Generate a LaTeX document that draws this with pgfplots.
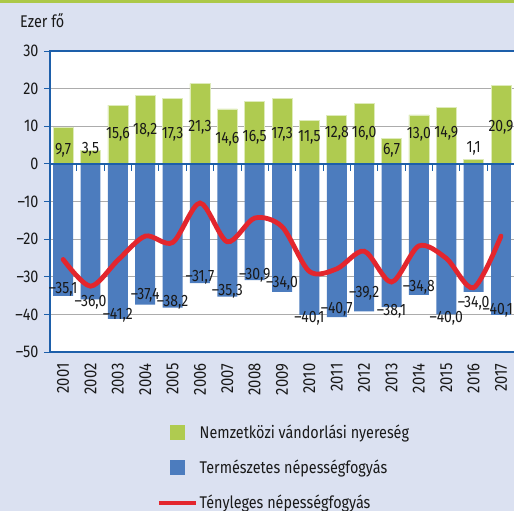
\documentclass[border=0pt]{standalone}
\usepackage{pgfplots}
\pgfplotsset{compat=1.18}
\usepackage{fontspec}
\setmainfont{Fira Sans}[FakeStretch=0.85]
\definecolor{bgc}{RGB}{219,225,241}
\definecolor{topgreen}{RGB}{172,200,72}
\definecolor{barg}{RGB}{175,203,80}
\definecolor{bargedge}{RGB}{222,235,185}
\definecolor{barb}{RGB}{76,124,190}
\definecolor{axb}{RGB}{29,95,170}
\definecolor{lred}{RGB}{227,38,46}
\definecolor{txt}{RGB}{25,25,25}
\begin{document}
\fontsize{16}{19}\selectfont
\begin{tikzpicture}[every node/.style={text=txt}]
\path[use as bounding box] (0,0) rectangle (514bp,511bp);
\fill[bgc] (0,0) rectangle (514bp,511bp);
\fill[topgreen] (0,508bp) rectangle (514bp,511bp);
\node[anchor=west, inner sep=0pt, font=\fontsize{17}{19}\selectfont] at (20bp,490bp) {Ezer fő};
\begin{axis}[
  at={(50bp,159bp)}, anchor=south west,
  scale only axis, width=480bp, height=301bp,
  xmin=2000.52, xmax=2018.06, ymin=-50, ymax=30,
  axis background/.style={fill=white},
  axis line style={draw=axb, line width=1.3bp},
  ytick={-50,-40,...,30},
  yticklabels={\mbox{–50},\mbox{–40},\mbox{–30},\mbox{–20},\mbox{–10},\mbox{0},\mbox{10},\mbox{20},\mbox{30}},
  ymajorgrids, grid style={gray!65, line width=0.8bp},
  ytick pos=left, tick align=outside, major tick length=6bp,
  ytick style={draw=axb, line width=1bp},
  xtick={2001,...,2017},
  xtick style={draw=none},
  xticklabel style={rotate=90, anchor=east, font=\fontsize{17.5}{19}\selectfont,
    /pgf/number format/1000 sep=},
  yticklabel style={font=\fontsize{17}{19}\selectfont},
  /pgf/number format/assume math mode=true,
  clip=false,
  legend style={at={(axis description cs:0.223,-0.235)}, anchor=north west,
    draw=none, fill=none, inner sep=0pt, row sep=15bp,
    font=\fontsize{17}{19}\selectfont},
  legend cell align=left,
]
% Nemzetközi vándorlási nyereség
\addplot[ybar, bar shift=0pt, bar width=0.73, fill=barg, draw=bargedge, line width=0.7bp, forget plot]
  coordinates {(2001,9.7) (2002,3.5) (2003,15.6) (2004,18.2) (2005,17.3) (2006,21.3)
  (2007,14.6) (2008,16.5) (2009,17.3) (2010,11.5) (2011,12.8) (2012,16.0)
  (2013,6.7) (2014,13.0) (2015,14.9) (2016,1.1) (2017,20.9)};
% Természetes népességfogyás
\addplot[ybar, bar shift=0pt, bar width=0.73, fill=barb, draw=none, forget plot]
  coordinates {(2001,-35.1) (2002,-36.0) (2003,-41.2) (2004,-37.4) (2005,-38.2) (2006,-31.7)
  (2007,-35.3) (2008,-30.9) (2009,-34.0) (2010,-40.1) (2011,-40.7) (2012,-39.2)
  (2013,-38.1) (2014,-34.8) (2015,-40.0) (2016,-34.0) (2017,-40.1)};
% zero line and separators
\addplot[axb, line width=1.6bp, forget plot] coordinates {(2000.52,0) (2018.06,0)};
\addplot[ycomb, axb, line width=1bp, no marks, forget plot]
  coordinates {(2001.5,-2) (2002.5,-2) (2003.5,-2) (2004.5,-2) (2005.5,-2) (2006.5,-2)
  (2007.5,-2) (2008.5,-2) (2009.5,-2) (2010.5,-2) (2011.5,-2) (2012.5,-2)
  (2013.5,-2) (2014.5,-2) (2015.5,-2) (2016.5,-2)};
% Tényleges népességfogyás
\addplot[lred, line width=4.8bp, smooth, line cap=round, no marks, forget plot]
  coordinates {(2001,-25.4) (2002,-32.5) (2003,-25.6) (2004,-19.2) (2005,-20.9) (2006,-10.4)
  (2007,-20.7) (2008,-14.4) (2009,-16.7) (2010,-28.6) (2011,-27.9) (2012,-23.2)
  (2013,-31.4) (2014,-21.8) (2015,-25.1) (2016,-32.9) (2017,-19.2)};
% data labels
\addplot[draw=none, no marks, forget plot, nodes near coords, point meta=explicit symbolic,
  every node near coord/.append style={anchor=center, inner sep=0pt, text depth=0pt,
    font=\fontsize{16.5}{19}\selectfont}]
  coordinates {(2001,4.1)[9,7] (2002,4.3)[3,5] (2003,8.1)[15,6] (2004,9.4)[18,2]
  (2005,8.1)[17,3] (2006,10.1)[21,3] (2007,7.0)[14,6] (2008,7.4)[16,5]
  (2009,8.2)[17,3] (2010,7.4)[11,5] (2011,8.6)[12,8] (2012,8.6)[16,0]
  (2013,4.0)[6,7] (2014,8.1)[13,0] (2015,8.6)[14,9] (2016,4.4)[1,1] (2017,10.1)[20,9]};
\addplot[draw=none, no marks, forget plot, nodes near coords, point meta=explicit symbolic,
  every node near coord/.append style={anchor=center, inner sep=0pt, text depth=0pt,
    font=\fontsize{16.5}{19}\selectfont}]
  coordinates {(2001,-33.1)[–35,1] (2002,-36.4)[–36,0] (2003,-39.8)[–41,2] (2004,-34.6)[–37,4]
  (2005,-36.4)[–38,2] (2006,-29.8)[–31,7] (2007,-33.5)[–35,3] (2008,-29.3)[–30,9]
  (2009,-31.3)[–34,0] (2010,-40.8)[–40,1] (2011,-38.4)[–40,7] (2012,-33.9)[–39,2]
  (2013,-38.8)[–38,1] (2014,-32.5)[–34,8] (2015,-40.6)[–40,0] (2016,-36.8)[–34,0]
  (2016.88,-38.6)[–40,1]};
% legend
\addlegendimage{legend image code/.code={\path[draw=none] (0bp,0bp) rectangle (37bp,0bp);
  \fill[barg, draw=none] (11bp,-7.5bp) rectangle (26bp,7.5bp);}}
\addlegendentry{Nemzetközi vándorlási nyereség}
\addlegendimage{legend image code/.code={\path[draw=none] (0bp,0bp) rectangle (37bp,0bp);
  \fill[barb, draw=none] (11bp,-7.5bp) rectangle (26bp,7.5bp);}}
\addlegendentry{Természetes népességfogyás}
\addlegendimage{legend image code/.code={\draw[lred, line width=3.5bp] (0bp,0bp) -- (37bp,0bp);}}
\addlegendentry{Tényleges népességfogyás}
\end{axis}
\end{tikzpicture}
\end{document}
